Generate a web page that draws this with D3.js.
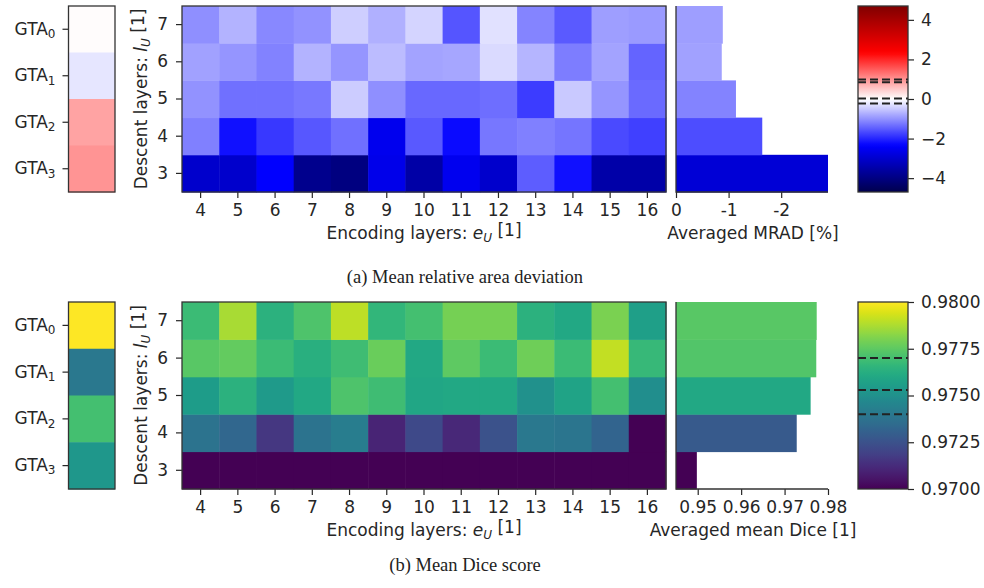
<!DOCTYPE html>
<html>
<head>
<meta charset="utf-8">
<script src="https://cdn.jsdelivr.net/npm/d3@7"></script>
<style>
body{margin:0;background:#fff;}
text{font-family:"DejaVu Sans",sans-serif;fill:#262626;}
.caption{font-family:"Liberation Serif","Times New Roman",serif;fill:#222;}
.tick line{stroke:#262626;stroke-width:1.2;}
</style>
</head>
<body>
<svg id="fig" width="984" height="588"></svg>
<script>
var encoding = [4,5,6,7,8,9,10,11,12,13,14,15,16];
var descent = [3,4,5,6,7];
var gtaIds = ["0","1","2","3"];

// rows: descent layers 3..7, columns: encoding layers 4..16
var mradRows = [
 [-3.02,-3.02,-2.35,-3.86,-4.03,-2.63,-3.52,-2.56,-3.02,-1.49,-2.20,-3.50,-3.50],
 [-1.17,-2.20,-1.83,-1.55,-1.32,-2.57,-1.53,-2.26,-1.25,-1.17,-1.27,-1.67,-1.76],
 [-1.00,-1.32,-1.32,-1.24,-0.47,-1.03,-1.39,-1.39,-1.34,-1.80,-0.50,-0.98,-1.37],
 [-0.87,-0.98,-1.15,-0.70,-0.98,-0.62,-0.85,-0.82,-0.34,-0.68,-1.20,-0.85,-1.43],
 [-1.03,-0.70,-1.10,-1.00,-0.45,-0.73,-0.40,-1.57,-0.28,-1.13,-1.52,-0.89,-0.93]
];
var mradAvg = [-2.89,-1.64,-1.14,-0.87,-0.89];
var mradGta = [0.03,-0.23,0.85,0.99];
var mradCbarTicks = [-4,-2,0,2,4];
var mradBarTicks = [0,-1,-2];

var diceRows = [
 [0.951,0.950,0.948,0.952,0.949,0.947,0.951,0.950,0.946,0.953,0.950,0.949,0.948],
 [0.9738,0.9733,0.9716,0.9738,0.9742,0.9710,0.9722,0.9711,0.9725,0.9740,0.9739,0.9732,0.9650],
 [0.9755,0.9764,0.9754,0.9760,0.9772,0.9769,0.9759,0.9760,0.9760,0.9750,0.9758,0.9770,0.9749],
 [0.9774,0.9776,0.9768,0.9763,0.9769,0.9777,0.9760,0.9775,0.9768,0.9778,0.9768,0.9791,0.9767],
 [0.9768,0.9787,0.9764,0.9772,0.9790,0.9766,0.9770,0.9779,0.9779,0.9764,0.9760,0.9780,0.9756]
];
var diceAvg = [0.9498,0.9728,0.9760,0.9773,0.9774];
var diceGta = [0.9812,0.9740,0.9770,0.9753];
var diceCbarTicks = [0.970,0.9725,0.975,0.9775,0.980];
var diceBarTicks = [0.95,0.96,0.97,0.98];

var svg = d3.select("#fig");

// matplotlib "seismic"
var seismic = d3.scaleLinear()
    .domain([0,0.25,0.5,0.75,1])
    .range(["#00004d","#0000ff","#ffffff","#ff0000","#800000"])
    .clamp(true);

var cols = {gta:[68.5,115], heat:[182,666], bar:[676,828], cbar:[858,908]};

var spineBox = function(g,x0,x1,y0,y1)
{
    g.append("rect")
        .attr("x",x0).attr("y",y0)
        .attr("width",x1-x0).attr("height",y1-y0)
        .attr("fill","none")
        .attr("stroke","#333")
        .attr("stroke-width",1.3);
}

var styleAxis = function(sel)
{
    sel.select(".domain").remove();
    sel.selectAll("text").style("font-size","17px").attr("fill","#262626");
}

var drawPanel = function(opt)
{
    var y0 = opt.top, y1 = opt.bottom;
    var g = svg.append("g");
    var color = function(v){ return opt.colorOf(v); };

    var yBand = d3.scaleBand().domain(descent.slice().reverse()).range([y0,y1]);
    var xBand = d3.scaleBand().domain(encoding).range(cols.heat);

    // GTA strip
    var gBand = d3.scaleBand().domain(gtaIds).range([y0,y1]);
    g.append("g").selectAll("rect")
        .data(opt.gta)
        .enter().append("rect")
        .attr("x",cols.gta[0])
        .attr("y",function(d,i){ return gBand(gtaIds[i]); })
        .attr("width",cols.gta[1]-cols.gta[0])
        .attr("height",gBand.bandwidth()+0.5)
        .attr("fill",color);
    var gAx = g.append("g")
        .attr("transform","translate("+cols.gta[0]+",0)")
        .call(d3.axisLeft(gBand).tickSize(6).tickPadding(7).tickFormat(""));
    styleAxis(gAx);
    gAx.selectAll(".tick").append("text")
        .attr("x",-13).attr("dy","0.32em")
        .attr("text-anchor","end")
        .style("font-size","17px")
        .each(function(d){
            var t = d3.select(this);
            t.append("tspan").text("GTA");
            t.append("tspan").attr("dy","0.28em").style("font-size","12px").text(d);
        });
    spineBox(g,cols.gta[0],cols.gta[1],y0,y1);

    // heatmap
    var cells = [];
    opt.rows.forEach(function(row,ri){
        row.forEach(function(v,ci){
            cells.push({d:descent[ri],e:encoding[ci],v:v});
        });
    });
    g.append("g").selectAll("rect")
        .data(cells)
        .enter().append("rect")
        .attr("x",function(c){ return xBand(c.e); })
        .attr("y",function(c){ return yBand(c.d); })
        .attr("width",xBand.bandwidth()+0.5)
        .attr("height",yBand.bandwidth()+0.5)
        .attr("fill",function(c){ return color(c.v); });
    var xAx = g.append("g")
        .attr("transform","translate(0,"+y1+")")
        .call(d3.axisBottom(xBand).tickSize(6).tickPadding(6));
    styleAxis(xAx);
    var yAx = g.append("g")
        .attr("transform","translate("+cols.heat[0]+",0)")
        .call(d3.axisLeft(yBand).tickSize(6).tickPadding(8));
    styleAxis(yAx);
    spineBox(g,cols.heat[0],cols.heat[1],y0,y1);

    var xl = g.append("text")
        .attr("x",(cols.heat[0]+cols.heat[1])/2)
        .attr("y",y1+47)
        .attr("text-anchor","middle")
        .style("font-size","17px");
    xl.append("tspan").text("Encoding layers: ");
    xl.append("tspan").style("font-style","italic").text("e");
    xl.append("tspan").style("font-style","italic").style("font-size","12px").attr("dy","0.28em").text("U");
    xl.append("tspan").attr("dy","-0.4em").text(" [1]");

    var yl = g.append("text")
        .attr("transform","translate(147,"+((y0+y1)/2)+") rotate(-90)")
        .attr("text-anchor","middle")
        .style("font-size","17px");
    yl.append("tspan").text("Descent layers: ");
    yl.append("tspan").style("font-style","italic").text("l");
    yl.append("tspan").style("font-style","italic").style("font-size","12px").attr("dy","0.28em").text("U");
    yl.append("tspan").attr("dy","-0.4em").text(" [1]");

    // averaged bars
    var xBar = d3.scaleLinear().domain(opt.barDomain).range(cols.bar);
    g.append("g").selectAll("rect")
        .data(opt.avg)
        .enter().append("rect")
        .attr("x",cols.bar[0])
        .attr("y",function(v,i){ return yBand(descent[i]); })
        .attr("width",function(v){ return xBar(v)-cols.bar[0]; })
        .attr("height",yBand.bandwidth()+0.5)
        .attr("fill",color);
    var bAx = g.append("g")
        .attr("transform","translate(0,"+y1+")")
        .call(d3.axisBottom(xBar).tickValues(opt.barTicks).tickSize(6).tickPadding(6).tickFormat(opt.barFormat));
    styleAxis(bAx);
    g.append("path")
        .attr("d","M"+cols.bar[0]+","+y0+"V"+y1+"H"+cols.bar[1])
        .attr("fill","none").attr("stroke","#333").attr("stroke-width",1.3);
    g.append("text")
        .attr("x",753)
        .attr("y",y1+47)
        .attr("text-anchor","middle")
        .style("font-size","17px")
        .text(opt.barLabel);

    // colorbar
    var cScale = d3.scaleLinear().domain(opt.cbarDomain).range([y1,y0]);
    var gradId = "grad"+opt.key;
    var grad = svg.append("defs").append("linearGradient")
        .attr("id",gradId)
        .attr("x1",0).attr("y1",1).attr("x2",0).attr("y2",0);
    d3.range(0,1.0001,0.02).forEach(function(t){
        var v = opt.cbarDomain[0]+t*(opt.cbarDomain[1]-opt.cbarDomain[0]);
        grad.append("stop").attr("offset",t).attr("stop-color",color(v));
    });
    g.append("rect")
        .attr("x",cols.cbar[0]).attr("y",y0)
        .attr("width",cols.cbar[1]-cols.cbar[0]).attr("height",y1-y0)
        .attr("fill","url(#"+gradId+")");
    g.append("g").selectAll("line")
        .data(opt.gta.filter(function(v){ return v>=opt.cbarDomain[0] && v<=opt.cbarDomain[1]; }))
        .enter().append("line")
        .attr("x1",cols.cbar[0]).attr("x2",cols.cbar[1])
        .attr("y1",cScale).attr("y2",cScale)
        .attr("stroke","#222")
        .attr("stroke-width",2)
        .attr("stroke-dasharray","8,4");
    var cAx = g.append("g")
        .attr("transform","translate("+cols.cbar[1]+",0)")
        .call(d3.axisRight(cScale).tickValues(opt.cbarTicks).tickSize(6).tickPadding(7).tickFormat(opt.cbarFormat));
    styleAxis(cAx);
    spineBox(g,cols.cbar[0],cols.cbar[1],y0,y1);

    svg.append("text")
        .attr("class","caption")
        .attr("x",465)
        .attr("y",opt.captionY)
        .attr("text-anchor","middle")
        .style("font-size","18.5px")
        .text(opt.caption);
}

var mradLim = 4.7;
drawPanel({
    key:"a", top:6, bottom:192,
    rows:mradRows, avg:mradAvg, gta:mradGta,
    colorOf:function(v){ return seismic((v+mradLim)/(2*mradLim)); },
    barDomain:[0,d3.min(mradAvg)], barTicks:mradBarTicks,
    barFormat:function(v){ return String(v); },
    barLabel:"Averaged MRAD [%]",
    cbarDomain:[-mradLim,mradLim], cbarTicks:mradCbarTicks,
    cbarFormat:function(v){ return v<0 ? "\u2212"+Math.abs(v) : String(v); },
    caption:"(a) Mean relative area deviation", captionY:283
});

var diceMin = 0.970, diceMax = 0.980;
drawPanel({
    key:"b", top:302, bottom:489,
    rows:diceRows, avg:diceAvg, gta:diceGta,
    colorOf:function(v){ return d3.interpolateViridis(Math.max(0,Math.min(1,(v-diceMin)/(diceMax-diceMin)))); },
    barDomain:[0.945,0.98], barTicks:diceBarTicks,
    barFormat:d3.format(".2f"),
    barLabel:"Averaged mean Dice [1]",
    cbarDomain:[diceMin,diceMax], cbarTicks:diceCbarTicks,
    cbarFormat:d3.format(".4f"),
    caption:"(b) Mean Dice score", captionY:571
});
</script>
</body>
</html>
